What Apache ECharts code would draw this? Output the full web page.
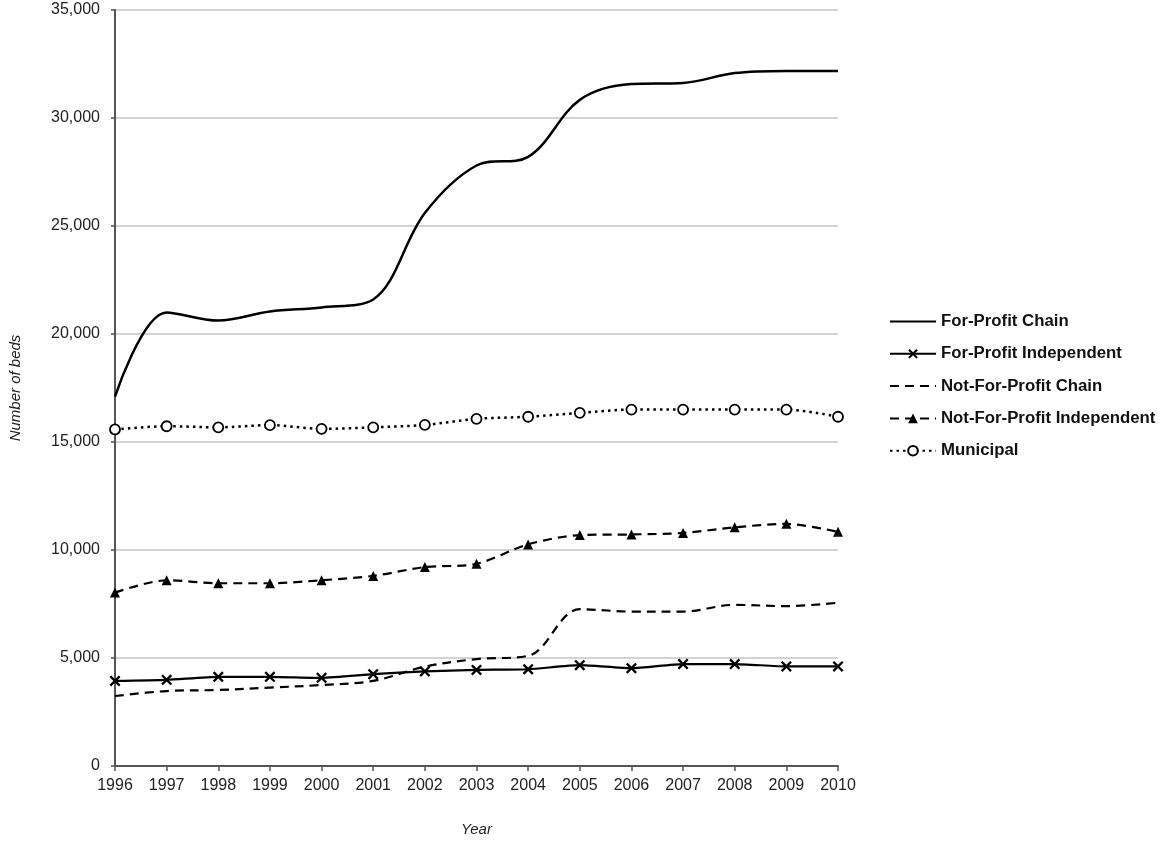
<!DOCTYPE html>
<html>
<head>
<meta charset="utf-8">
<script src="https://cdn.jsdelivr.net/npm/echarts@6/dist/echarts.min.js"></script>
<style>
html,body{margin:0;padding:0;background:#fff;}
#chart{width:1162px;height:842px;}
</style>
</head>
<body>
<div id="chart"></div>
<script>
const years = ['1996','1997','1998','1999','2000','2001','2002','2003','2004','2005','2006','2007','2008','2009','2010'];
const forProfitChain = [17100,21000,20620,21040,21230,21600,25600,27800,28200,30840,31570,31620,32080,32180,32180];
const forProfitIndependent = [3940,3990,4130,4130,4080,4250,4380,4450,4480,4670,4530,4720,4720,4610,4610];
const notForProfitChain = [3240,3470,3520,3630,3750,3940,4600,4950,5100,7260,7150,7150,7460,7400,7560];
const notForProfitIndependent = [8030,8600,8460,8460,8600,8800,9210,9360,10260,10690,10720,10790,11050,11210,10840];
const municipal = [15580,15730,15680,15780,15610,15680,15790,16070,16170,16350,16500,16500,16500,16500,16170];
const yTicks = { min: 0, max: 35000, interval: 5000 };

const xPath = 'path://M1.5,0L5,3.5L8.5,0L10,1.5L6.5,5L10,8.5L8.5,10L5,6.5L1.5,10L0,8.5L3.5,5L0,1.5Z';
const font = 'Liberation Sans, Arial, sans-serif';

const chart = echarts.init(document.getElementById('chart'), null, {renderer:'canvas'});
chart.setOption({
  animation: false,
  backgroundColor: '#fff',
  grid: { left: 108, right: 324, top: 10, bottom: 75, containLabel: false },
  legend: {
    orient: 'vertical',
    left: 884,
    top: 308,
    itemWidth: 46,
    itemHeight: 12,
    itemGap: 15.3,
    textStyle: { fontFamily: font, fontSize: 16.8, fontWeight: 'bold', color: '#111' },
    data: [
      { name: 'For-Profit Chain', itemStyle: { opacity: 0 } },
      { name: 'For-Profit Independent' },
      { name: 'Not-For-Profit Chain', itemStyle: { opacity: 0 } },
      { name: 'Not-For-Profit Independent' },
      { name: 'Municipal' }
    ]
  },
  xAxis: {
    type: 'category',
    data: years,
    boundaryGap: false,
    name: 'Year',
    nameLocation: 'middle',
    nameGap: 56,
    nameTextStyle: { fontFamily: font, fontSize: 15, fontStyle: 'italic', color: '#222' },
    axisLine: { lineStyle: { color: '#555', width: 2 } },
    axisTick: { show: true, alignWithLabel: true, length: 5, lineStyle: { color: '#555', width: 1.5 } },
    axisLabel: { fontFamily: font, fontSize: 16, color: '#222', margin: 12 }
  },
  yAxis: {
    type: 'value',
    min: yTicks.min, max: yTicks.max, interval: yTicks.interval,
    name: 'Number of beds',
    nameLocation: 'middle',
    nameGap: 92,
    nameRotate: 90,
    nameTextStyle: { fontFamily: font, fontSize: 15, fontStyle: 'italic', color: '#222' },
    axisLine: { show: true, lineStyle: { color: '#555', width: 2 } },
    axisTick: { show: true, length: 4, lineStyle: { color: '#555', width: 1.5 } },
    axisLabel: { fontFamily: font, fontSize: 16, color: '#222', margin: 15,
      formatter: v => v.toLocaleString('en-US') },
    splitLine: { lineStyle: { color: '#c4c4c4', width: 1.5 } }
  },
  series: [
    { name: 'For-Profit Chain', type: 'line', data: forProfitChain, smooth: 0.35,
      showSymbol: false, symbol: 'circle',
      lineStyle: { color: '#000', width: 2.5, type: 'solid' }, itemStyle: { color: '#000' } },
    { name: 'For-Profit Independent', type: 'line', data: forProfitIndependent, smooth: 0.2,
      symbol: xPath, symbolSize: 11,
      lineStyle: { color: '#000', width: 2.2, type: 'solid' }, itemStyle: { color: '#000' } },
    { name: 'Not-For-Profit Chain', type: 'line', data: notForProfitChain, smooth: 0.35,
      symbol: 'circle', showSymbol: false,
      lineStyle: { color: '#000', width: 2.2, type: [9, 6] }, itemStyle: { color: '#000' } },
    { name: 'Not-For-Profit Independent', type: 'line', data: notForProfitIndependent, smooth: 0.3,
      symbol: 'triangle', symbolSize: 10,
      lineStyle: { color: '#000', width: 2.2, type: [9, 6] }, itemStyle: { color: '#000' } },
    { name: 'Municipal', type: 'line', data: municipal, smooth: 0.3,
      symbol: 'circle', symbolSize: 10,
      lineStyle: { color: '#000', width: 2.5, type: [2.5, 4] },
      itemStyle: { color: '#fff', borderColor: '#000', borderWidth: 1.8 } }
  ]
});
</script>
</body>
</html>
